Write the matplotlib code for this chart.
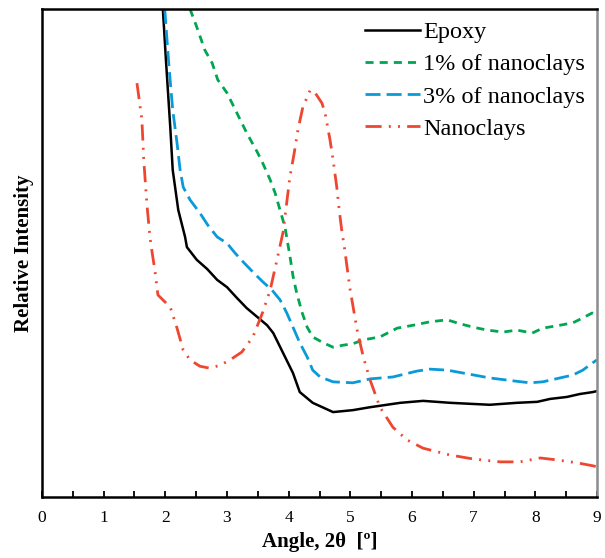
import matplotlib
matplotlib.use('Agg')
import matplotlib.pyplot as plt
from matplotlib.ticker import MultipleLocator

plt.rcParams['font.family'] = ['Liberation Serif', 'DejaVu Serif']

# Epoxy
epoxy_x = [1.96, 2.01, 2.08, 2.12, 2.21, 2.32, 2.35, 2.51, 2.68, 2.84, 3.00, 3.16, 3.32, 3.49,
           3.65, 3.75, 3.91, 4.07, 4.18, 4.39, 4.72, 5.04, 5.32, 5.81, 6.18, 6.62, 7.26, 7.70,
           8.03, 8.24, 8.51, 8.72, 8.93, 9.0]
epoxy_y = [100, 89.5, 75.8, 67.0, 58.8, 53.3, 51.2, 48.6, 46.7, 44.5, 43.0, 40.8, 38.7, 36.9,
           35.2, 33.6, 29.5, 25.4, 21.5, 19.3, 17.4, 17.8, 18.4, 19.3, 19.7, 19.3, 18.9, 19.3,
           19.5, 20.1, 20.5, 21.1, 21.5, 21.7]

# 1% of nanoclays
nc1_x = [2.40, 2.51, 2.64, 2.76, 2.85, 3.00, 3.16, 3.32, 3.49, 3.58, 3.70, 3.78, 3.86, 3.94,
         4.02, 4.07, 4.13, 4.22, 4.30, 4.39, 4.56, 4.72, 4.88, 5.04, 5.21, 5.48, 5.76, 6.02,
         6.29, 6.57, 6.78, 6.99, 7.22, 7.48, 7.70, 7.95, 8.12, 8.40, 8.61, 8.77, 8.92, 9.0]
nc1_y = [100, 96.3, 91.6, 88.9, 85.5, 82.8, 78.7, 74.6, 70.7, 68.4, 65.0, 62.3, 58.8, 55.3,
         49.4, 45.3, 41.8, 37.7, 34.8, 32.8, 31.6, 30.7, 31.1, 31.4, 32.2, 32.8, 34.6, 35.2,
         35.9, 36.3, 35.5, 34.8, 34.2, 33.8, 34.2, 33.6, 34.6, 35.2, 35.7, 36.7, 37.7, 37.3]

# 3% of nanoclays
nc3_x = [1.99, 2.06, 2.12, 2.19, 2.24, 2.29, 2.40, 2.56, 2.69, 2.84, 3.00, 3.13, 3.26, 3.42,
         3.58, 3.73, 3.86, 3.97, 4.07, 4.18, 4.30, 4.39, 4.51, 4.72, 5.04, 5.32, 5.69, 6.08,
         6.29, 6.57, 6.83, 7.26, 7.64, 7.91, 8.12, 8.40, 8.61, 8.77, 8.93, 9.0]
nc3_y = [100, 88.1, 79.3, 72.5, 67.0, 63.5, 60.9, 58.2, 55.7, 53.3, 52.0, 50.0, 48.2, 46.1,
         44.1, 42.4, 40.4, 37.7, 34.8, 31.6, 28.7, 26.0, 24.6, 23.6, 23.4, 24.2, 24.6, 25.8,
         26.2, 26.0, 25.4, 24.4, 23.8, 23.4, 23.6, 24.4, 25.0, 26.0, 27.5, 28.1]

# Nanoclays
clay_x = [1.54, 1.62, 1.65, 1.70, 1.75, 1.78, 1.83, 1.88, 1.96, 2.08, 2.19, 2.29, 2.40, 2.56,
          2.72, 2.89, 3.05, 3.24, 3.42, 3.58, 3.70, 3.81, 3.91, 4.02, 4.09, 4.15, 4.23, 4.35,
          4.43, 4.54, 4.59, 4.67, 4.72, 4.78, 4.82, 4.86, 4.91, 4.99, 5.11, 5.21, 5.32, 5.48,
          5.69, 5.92, 6.18, 6.62, 6.99, 7.43, 7.75, 8.08, 8.35, 8.68, 8.93, 9.0]
clay_y = [84.8, 77.3, 69.1, 60.2, 53.3, 50.6, 46.5, 41.4, 40.4, 38.9, 34.6, 30.1, 28.1, 26.8,
          26.4, 27.0, 28.1, 29.7, 32.8, 37.9, 42.4, 48.6, 54.3, 65.6, 70.5, 75.2, 79.9, 83.4,
          82.8, 80.7, 78.7, 73.2, 69.1, 63.5, 58.8, 54.7, 50.6, 43.0, 34.2, 28.7, 24.0, 18.4,
          14.3, 11.7, 10.0, 8.6, 7.8, 7.2, 7.2, 8.0, 7.6, 7.0, 6.4, 6.2]

fig = plt.figure(figsize=(6.05, 5.58), dpi=100)
ax = fig.add_axes([0.0694, 0.1093, 0.9174, 0.8746])

ax.plot(epoxy_x, epoxy_y, color='black', lw=1.8, label='Epoxy')
ax.plot(nc1_x, nc1_y, color='#00A651', lw=2, dashes=(2.9, 2.2), label='1% of nanoclays')
ax.plot(nc3_x, nc3_y, color='#0A9AD8', lw=2, dashes=(5.4, 2.2), label='3% of nanoclays')
ax.plot(clay_x, clay_y, color='#EF4631', lw=2, dashes=(5.8, 2.6, 0.7, 2.6, 0.7, 2.6),
        label='Nanoclays')

ax.set_xlim(0, 9)
ax.set_ylim(0, 100)
ax.xaxis.set_major_locator(MultipleLocator(1))
ax.xaxis.set_minor_locator(MultipleLocator(0.5))
ax.tick_params(axis='x', which='both', direction='in', length=4, width=1.3,
               labelsize=12.5, pad=9, top=False)
ax.tick_params(axis='y', which='both', left=False, labelleft=False)

for side in ['left', 'bottom', 'top']:
    ax.spines[side].set_linewidth(1.8)
ax.spines['right'].set_linewidth(1.8)
ax.spines['right'].set_color('#8c8c8c')

ax.set_xlabel('Angle, 2θ  [º]', fontsize=15, fontweight='bold', labelpad=5)
ax.set_ylabel('Relative Intensity', fontsize=15, fontweight='bold', labelpad=6)

ax.legend(loc='upper right', bbox_to_anchor=(1.0, 1.0), frameon=False, fontsize=17.5,
          handlelength=2.25, handletextpad=0.12, labelspacing=0.42, borderpad=0.5,
          borderaxespad=0.0)

fig.savefig('out.png', dpi=100)
